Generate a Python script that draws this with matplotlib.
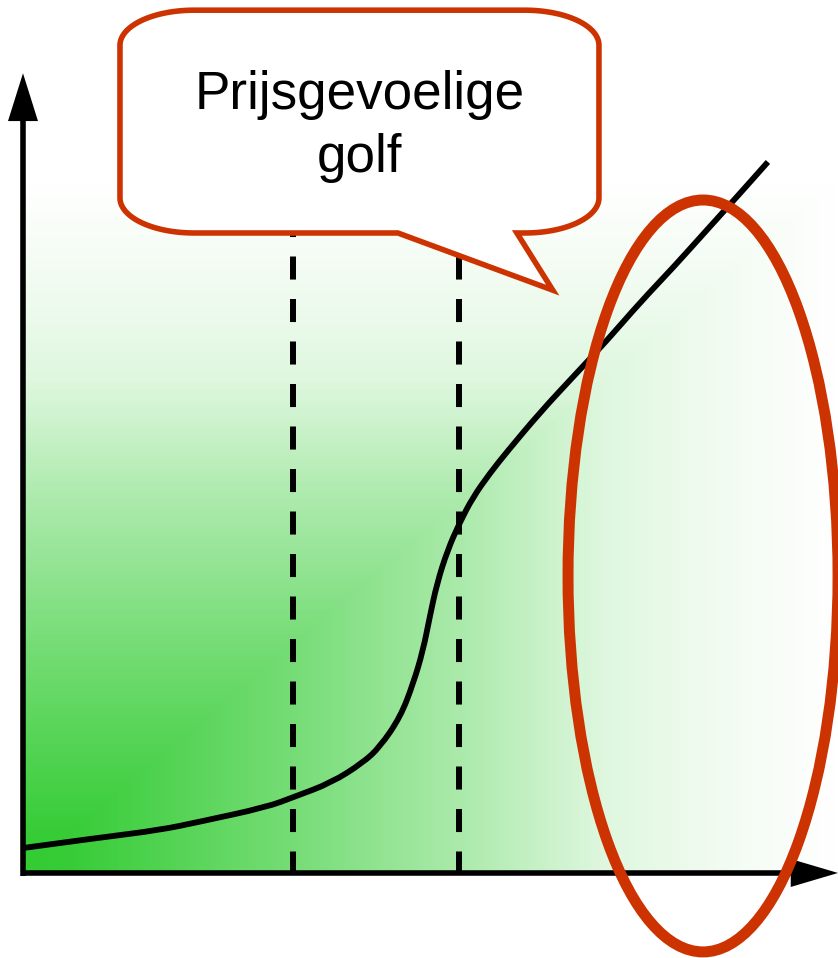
import numpy as np
import matplotlib
matplotlib.use('Agg')
import matplotlib.pyplot as plt
from matplotlib.colors import LinearSegmentedColormap
from matplotlib.patches import Polygon, Ellipse, PathPatch
from matplotlib.path import Path

plt.rcParams['font.family'] = ['Liberation Sans', 'DejaVu Sans']
plt.rcParams['lines.scale_dashes'] = False

# price (x) vs volume (y) curve (0..100 scale)
curve_x = [0.0, 9.4, 16.8, 21.7, 29.9, 33.3, 37.8, 41.7, 43.8, 46.3, 47.9, 49.1,
           49.9, 50.8, 52.1, 53.6, 55.2, 57.3, 59.4, 63.4, 67.5, 71.7, 75.7,
           79.8, 84.0, 88.0, 91.4]
curve_y = [3.6, 5.1, 6.2, 7.4, 9.5, 11.0, 13.0, 15.9, 18.2, 22.5, 27.4, 32.2,
           36.9, 41.8, 46.6, 50.6, 54.2, 57.7, 60.8, 66.4, 71.6, 76.9, 82.3,
           87.4, 92.9, 98.1, 102.6]

# boundaries of the price-sensitive wave
wave_x = [33.1, 53.5]
wave_top = 95.1

bubble_lines = ['Prijsgevoelige', 'golf']

green = '#33cc33'
red = '#cc3300'

fig = plt.figure(figsize=(8.38, 9.58), dpi=100)
ax = fig.add_axes([0, 0, 1, 1])
ax.set_xlim(-2.82, 100)
ax.set_ylim(-12.27, 125.97)
ax.axis('off')

# corner gradient: colour depends on max(u, v) from the origin
cmap = LinearSegmentedColormap.from_list('grad', [
    (0.0, green), (0.05, '#36cc36'), (0.33, '#76dd76'), (0.54, '#acEaac'),
    (0.71, '#def7de'), (0.84, '#f0fbf0'), (1.0, '#ffffff')])
u = np.linspace(0, 1, 400)
uu, vv = np.meshgrid(u, u)
t = np.maximum(uu, vv)
ax.imshow(t, cmap=cmap, vmin=0, vmax=1, extent=[0, 100, 0, 100],
          origin='lower', aspect='auto', interpolation='bilinear', zorder=0)

# dashed verticals
for wx in wave_x:
    ax.plot([wx, wx], [wave_top, 0], color='black', lw=4.3,
            linestyle=(0, (16.6, 14.0)), zorder=1)

# the curve, drawn smooth (quadratic pieces through the midpoints)
pts = list(zip(curve_x, curve_y))
verts = [pts[0]]
codes = [Path.MOVETO]
for i in range(1, len(pts) - 1):
    mid = ((pts[i][0] + pts[i + 1][0]) / 2, (pts[i][1] + pts[i + 1][1]) / 2)
    verts += [pts[i], mid]
    codes += [Path.CURVE3, Path.CURVE3]
verts.append(pts[-1])
codes.append(Path.LINETO)
ax.add_patch(PathPatch(Path(verts, codes), fill=False, edgecolor='black',
                       lw=4.2, capstyle='butt', zorder=2))

# axes with arrowheads
ax.plot([0, 0], [-0.4, 108.5], color='black', lw=4.0, solid_capstyle='butt', zorder=3)
ax.add_patch(Polygon([[-1.84, 108.5], [1.84, 108.5], [0, 115.4]], closed=True,
                     color='black', lw=0, zorder=3))
ax.plot([-0.3, 94.3], [0, 0], color='black', lw=4.0, solid_capstyle='butt', zorder=3)
ax.add_patch(Polygon([[94.2, -2.02], [94.2, 2.02], [100.0, 0]], closed=True,
                     color='black', lw=0, zorder=3, clip_on=False))

# speech bubble
x0, x1, y0, y1 = 11.9, 70.67, 92.35, 124.5
rx, ry = 9.08, 5.05
tail = [(46.0, y0), (65.0, 84.1), (60.6, y0)]


def arc(cx, cy, a0, a1):
    a = np.radians(np.linspace(a0, a1, 30))
    return list(zip(cx + rx * np.cos(a), cy + ry * np.sin(a)))


outline = [(x1 - rx, y1)]
outline += arc(x0 + rx, y1 - ry, 90, 180)
outline += arc(x0 + rx, y0 + ry, 180, 270)
outline += tail
outline += arc(x1 - rx, y0 + ry, 270, 360)
outline += arc(x1 - rx, y1 - ry, 0, 90)
ax.add_patch(Polygon(outline, closed=True, facecolor='white', edgecolor=red,
                     lw=4.0, joinstyle='miter', zorder=4))

ax.text(41.35, 110.25, bubble_lines[0], ha='center', va='baseline',
        fontsize=38.2, color='black', zorder=5)
ax.text(41.35, 101.15, bubble_lines[1], ha='center', va='baseline',
        fontsize=38.2, color='black', zorder=5)

# highlight ellipse
ax.add_patch(Ellipse((83.44, 42.86), 33.13, 108.5, fill=False, edgecolor=red,
                     lw=7.9, zorder=6, clip_on=False))

fig.savefig('out.png', dpi=100)
